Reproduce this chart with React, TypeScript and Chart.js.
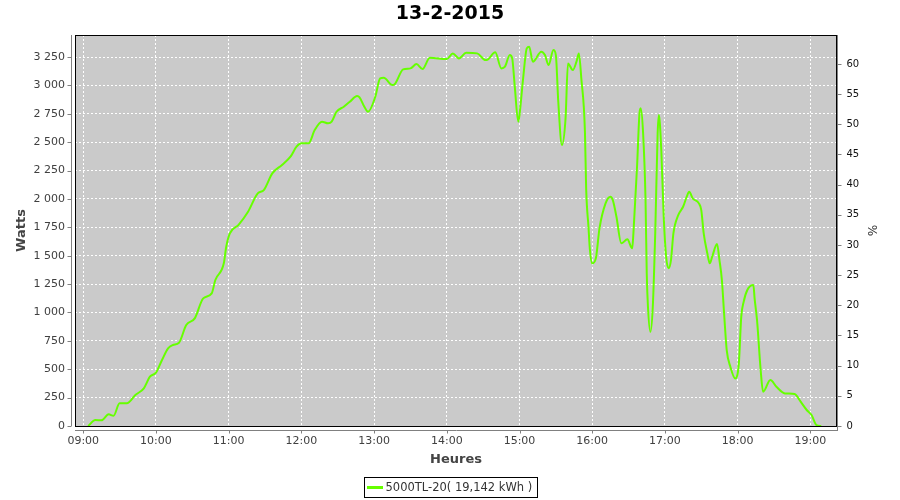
import React, { useEffect, useRef } from 'react';
import { Chart, registerables } from 'chart.js';

Chart.register(...registerables);

const TITLE = '13-2-2015';
const SERIES_LABEL = '5000TL-20( 19,142 kWh )';
const X_TITLE = 'Heures';
const Y_TITLE = 'Watts';
const Y2_TITLE = '%';

// minutes since midnight
const TIMES = [
  544, 550, 555, 561, 565, 570, 576, 583, 590, 595, 600, 605, 610, 614, 619, 625, 632, 639, 646, 649,
  656, 658, 661, 668, 676, 684, 689, 696, 704, 711, 716, 720, 726, 731, 737, 742, 745, 749, 755, 760,
  766, 768, 772, 775, 781, 785, 788, 795, 797, 804, 810, 815, 820, 826, 840, 845, 850, 856, 865, 872,
  874, 880, 885, 888, 892, 894, 896, 899, 900, 903, 906, 908, 911, 918, 921, 924, 928, 930, 932, 935,
  938, 940, 944, 947, 949, 951, 954, 955, 957, 958, 960, 963, 966, 971, 975, 977, 980, 984, 989, 993,
  994, 997, 999, 1000, 1002, 1004, 1005, 1006, 1008, 1010, 1012, 1014, 1015, 1017, 1019, 1021, 1023, 1025, 1027, 1031,
  1035, 1038, 1040, 1043, 1048, 1050, 1052, 1055, 1057, 1059, 1063, 1065, 1067, 1069, 1071, 1074, 1078, 1081, 1083, 1085,
  1088, 1093, 1094, 1096, 1099, 1101, 1107, 1112, 1119, 1127, 1132, 1137, 1141, 1145, 1149,
];

const WATTS = [
  0, 53, 50, 103, 90, 200, 200, 273, 332, 434, 470, 581, 684, 713, 733, 889, 948, 1124, 1168, 1286,
  1433, 1579, 1697, 1770, 1887, 2049, 2078, 2225, 2299, 2372, 2460, 2490, 2490, 2607, 2680, 2666, 2680, 2768, 2812, 2856,
  2906, 2895, 2812, 2768, 2900, 3062, 3068, 3003, 3010, 3141, 3150, 3188, 3144, 3244, 3232, 3282, 3238, 3288, 3282, 3223,
  3230, 3291, 3150, 3165, 3267, 3238, 3003, 2680, 2739, 3062, 3326, 3341, 3209, 3297, 3267, 3179, 3311, 3267, 2856, 2475,
  2710, 3193, 3135, 3209, 3282, 3062, 2592, 2093, 1741, 1565, 1433, 1477, 1741, 1961, 2020, 1990, 1843, 1609, 1644, 1565,
  1697, 2284, 2753, 2798, 2578, 1990, 1345, 1051, 830, 1051, 1697, 2578, 2739, 2431, 1843, 1491, 1389, 1462, 1697, 1858,
  1931, 2020, 2063, 2004, 1961, 1902, 1697, 1521, 1433, 1491, 1603, 1462, 1286, 963, 669, 522, 419, 552, 963, 1095,
  1198, 1242, 1124, 934, 493, 302, 405, 346, 287, 282, 214, 141, 97, 9, 0,
];

const X_MIN = 533.2;
const X_MAX = 1162;
const X_TICKS = [540, 600, 660, 720, 780, 840, 900, 960, 1020, 1080, 1140];
const Y_MAX = 3444;
const Y_TICKS = [0, 250, 500, 750, 1000, 1250, 1500, 1750, 2000, 2250, 2500, 2750, 3000, 3250];
const Y2_MAX = 64.8;
const Y2_TICKS = [0, 5, 10, 15, 20, 25, 30, 35, 40, 45, 50, 55, 60];

const LINE_COLOR = '#66ff00';
const FONT = 'DejaVu Sans';

const fmtThousands = (v: number) => String(Math.round(v)).replace(/\B(?=(\d{3})+(?!\d))/g, ' ');
const fmtTime = (v: number) => {
  const h = Math.floor(v / 60);
  const m = Math.round(v - h * 60);
  return String(h).padStart(2, '0') + ':' + String(m).padStart(2, '0');
};

const decor = {
  id: 'decor',
  beforeDraw(chart: any) {
    const { ctx, chartArea: a } = chart;
    ctx.save();
    ctx.fillStyle = '#ffffff';
    ctx.fillRect(0, 0, chart.width, chart.height);
    ctx.fillStyle = '#cacaca';
    ctx.fillRect(a.left, a.top, a.right - a.left, a.bottom - a.top);
    ctx.restore();
  },
  afterDraw(chart: any) {
    const { ctx, chartArea: a } = chart;
    ctx.save();
    // plot outline
    ctx.strokeStyle = '#000';
    ctx.lineWidth = 1;
    ctx.strokeRect(Math.round(a.left) + 0.5, Math.round(a.top) + 0.5, Math.round(a.right - a.left) - 1, Math.round(a.bottom - a.top));
    // axis lines (offset like JFreeChart)
    ctx.strokeStyle = '#808080';
    const L = Math.round(a.left) - 3.5;
    const B = Math.round(a.bottom) + 4.5;
    const R = Math.round(a.right) + 0.5;
    ctx.beginPath();
    ctx.moveTo(L, a.top);
    ctx.lineTo(L, a.bottom);
    ctx.moveTo(a.left, B);
    ctx.lineTo(a.right + 1, B);
    ctx.moveTo(R, a.top);
    ctx.lineTo(R, B);
    const sy = chart.scales.y;
    sy.ticks.forEach((t: any) => {
      const p = Math.round(sy.getPixelForValue(t.value)) + 0.5;
      ctx.moveTo(L - 4, p);
      ctx.lineTo(L, p);
    });
    const sx = chart.scales.x;
    sx.ticks.forEach((t: any) => {
      const p = Math.round(sx.getPixelForValue(t.value)) + 0.5;
      ctx.moveTo(p, B);
      ctx.lineTo(p, B + 3);
    });
    const s2 = chart.scales.y1;
    s2.ticks.forEach((t: any) => {
      const p = Math.round(s2.getPixelForValue(t.value)) + 0.5;
      ctx.moveTo(R, p);
      ctx.lineTo(R + 4, p);
    });
    ctx.stroke();

    // legend
    const ds = chart.data.datasets[0];
    ctx.font = `11.5px "${FONT}"`;
    const tw = ctx.measureText(ds.label).width;
    const bw = 3 + 16 + 2 + tw + 5;
    const bx = Math.round(450 - bw / 2) + 0.5;
    const by = 477.5;
    const bh = 20;
    ctx.strokeStyle = '#000';
    ctx.lineWidth = 1;
    ctx.strokeRect(bx, by, Math.round(bw), bh);
    ctx.strokeStyle = ds.borderColor;
    ctx.lineWidth = 3;
    ctx.beginPath();
    ctx.moveTo(bx + 2.5, by + bh / 2);
    ctx.lineTo(bx + 18.5, by + bh / 2);
    ctx.stroke();
    ctx.fillStyle = '#333';
    ctx.textBaseline = 'middle';
    ctx.textAlign = 'left';
    ctx.fillText(ds.label, bx + 21, by + bh / 2 + 0.5);
    ctx.restore();
  },
};

export default function App() {
  const ref = useRef<HTMLCanvasElement | null>(null);

  useEffect(() => {
    document.body.style.margin = '0';
    const canvas = ref.current;
    if (!canvas) return;
    const data = TIMES.map((t, i) => ({ x: t, y: WATTS[i] }));
    const chart = new Chart(canvas, {
      type: 'line',
      data: {
        datasets: [
          {
            label: SERIES_LABEL,
            data,
            borderColor: LINE_COLOR,
            backgroundColor: LINE_COLOR,
            borderWidth: 2,
            pointRadius: 0,
            cubicInterpolationMode: 'monotone',
            fill: false,
            yAxisID: 'y',
          },
        ],
      },
      options: {
        animation: false,
        responsive: false,
        maintainAspectRatio: false,
        layout: { padding: { left: 0, right: 0, top: 0, bottom: 28.2 } },
        plugins: {
          legend: { display: false },
          tooltip: { enabled: false },
          title: {
            display: true,
            text: TITLE,
            color: '#000',
            font: { family: FONT, size: 19, weight: 'bold' },
            padding: { top: 3, bottom: 9.2 },
          },
        },
        scales: {
          x: {
            type: 'linear',
            position: 'bottom',
            min: X_MIN,
            max: X_MAX,
            afterFit: (s: any) => { s.height = 45.8; },
            afterBuildTicks: (s: any) => { s.ticks = X_TICKS.map((value) => ({ value })); },
            ticks: {
              autoSkip: false,
              maxRotation: 0,
              padding: 9,
              color: '#404040',
              font: { family: FONT, size: 11 },
              callback: (v: any) => fmtTime(Number(v)),
            },
            grid: { display: true, color: '#ffffff', lineWidth: 1, drawTicks: false },
            border: { display: false, dash: [2, 2] },
            title: {
              display: true,
              text: X_TITLE,
              color: '#444',
              font: { family: FONT, size: 13, weight: 'bold' },
              padding: { top: 0, bottom: 4 },
            },
          },
          y: {
            type: 'linear',
            position: 'left',
            min: 0,
            max: Y_MAX,
            afterFit: (s: any) => { s.width = 75; },
            afterBuildTicks: (s: any) => { s.ticks = Y_TICKS.map((value) => ({ value })); },
            ticks: {
              autoSkip: false,
              padding: 10,
              color: '#404040',
              font: { family: FONT, size: 11 },
              callback: (v: any) => fmtThousands(Number(v)),
            },
            grid: { display: true, color: '#ffffff', lineWidth: 1, drawTicks: false },
            border: { display: false, dash: [2, 2] },
            title: {
              display: true,
              text: Y_TITLE,
              color: '#444',
              font: { family: FONT, size: 13, weight: 'bold' },
              padding: { top: 14.2, bottom: 0 },
            },
          },
          y1: {
            type: 'linear',
            position: 'right',
            display: true,
            min: 0,
            max: Y2_MAX,
            afterFit: (s: any) => { s.width = 63; },
            afterBuildTicks: (s: any) => { s.ticks = Y2_TICKS.map((value) => ({ value })); },
            ticks: {
              autoSkip: false,
              padding: 9.5,
              color: '#111',
              font: { family: FONT, size: 10 },
            },
            grid: { display: false, drawTicks: false },
            border: { display: false },
            title: {
              display: true,
              text: Y2_TITLE,
              color: '#333',
              font: { family: FONT, size: 12 },
              padding: { top: 21.4, bottom: 0 },
            },
          },
        },
      },
      plugins: [decor],
    } as any);
    return () => chart.destroy();
  }, []);

  return (
    <div style={{ width: 900, height: 500, position: 'relative' }}>
      <canvas ref={ref} width={900} height={500} style={{ display: 'block', width: 900, height: 500 }} />
    </div>
  );
}
